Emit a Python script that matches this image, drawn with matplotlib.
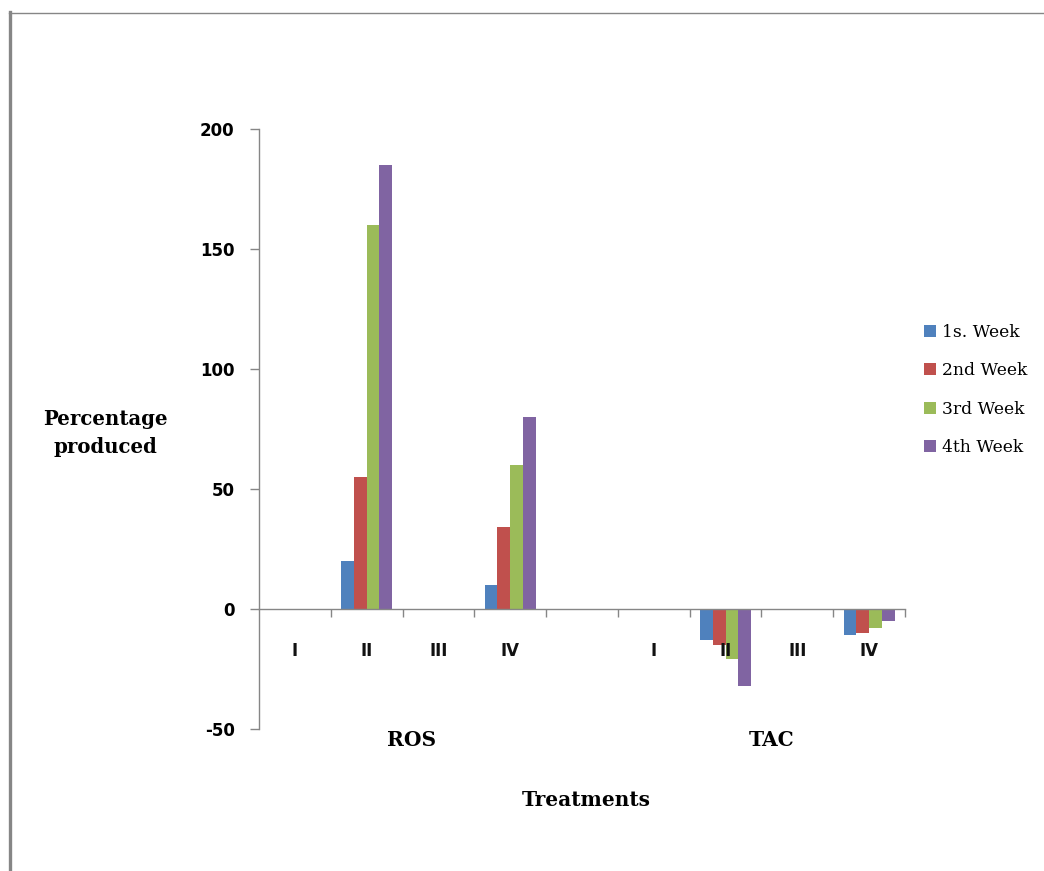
import numpy as np
import matplotlib
matplotlib.use("Agg")
import matplotlib.pyplot as plt
from matplotlib.lines import Line2D
from matplotlib.ticker import FixedLocator

# Treatment slots: ROS I-IV, a spacer, then TAC I-IV
categories = ["I", "II", "III", "IV", "", "I", "II", "III", "IV"]
groups = ["ROS", "TAC"]
series_names = ["1s. Week", "2nd Week", "3rd Week", "4th Week"]

week1 = [0, 20, 0, 10, np.nan, 0, -13, 0, -11]
week2 = [0, 55, 0, 34, np.nan, 0, -15, 0, -10]
week3 = [0, 160, 0, 60, np.nan, 0, -21, 0, -8]
week4 = [0, 185, 0, 80, np.nan, 0, -32, 0, -5]

y_ticks = [-50, 0, 50, 100, 150, 200]

colors = ["#4F81BD", "#C0504D", "#9BBB59", "#8064A2"]
axis_grey = "#868686"

fig = plt.figure(figsize=(10.44, 8.71), dpi=100)
ax = fig.add_axes([259 / 1044, 1 - 729 / 871, 646 / 1044, 600 / 871])

x = np.arange(len(categories))
bar_w = 0.178
series = [week1, week2, week3, week4]
for i, (vals, name, col) in enumerate(zip(series, series_names, colors)):
    ax.bar(x + (i - 1.5) * bar_w, vals, width=bar_w, color=col,
           linewidth=0, label=name, zorder=1.2)

ax.set_xlim(-0.5, len(categories) - 0.5)
ax.set_ylim(-50, 200)

# Axes styling: tick labels sit above the bars
ax.xaxis.set_zorder(2.5)
ax.yaxis.set_zorder(2.5)
for side in ["top", "right"]:
    ax.spines[side].set_visible(False)
ax.spines["bottom"].set_position(("data", 0))
ax.spines["bottom"].set_color(axis_grey)
ax.spines["left"].set_color(axis_grey)
ax.spines["bottom"].set_linewidth(1.0)
ax.spines["left"].set_linewidth(1.0)
ax.spines["bottom"].set_zorder(3)

ax.set_yticks(y_ticks)
ax.set_yticklabels([str(v) for v in y_ticks], fontfamily="DejaVu Sans",
                   fontweight="bold", fontsize=12)
ax.tick_params(axis="y", direction="out", length=6.5, width=1.0,
               color=axis_grey, pad=11)

ax.set_xticks(x)
ax.set_xticklabels(categories, fontfamily="DejaVu Sans", fontweight="bold",
                   fontsize=12, color="#111111")
ax.tick_params(axis="x", which="major", length=0, pad=24)
ax.xaxis.set_minor_locator(FixedLocator(np.arange(0.5, len(categories), 1.0)))
ax.tick_params(axis="x", which="minor", direction="out", length=6,
               width=1.0, color=axis_grey)

# Group names beneath the treatment labels
serif_bold = dict(fontfamily="DejaVu Serif", fontweight="bold", fontsize=14.5)
ax.text(1.63, -54.6, groups[0], ha="center", va="center", clip_on=False, **serif_bold)
ax.text(6.64, -54.6, groups[1], ha="center", va="center", clip_on=False, **serif_bold)

ax.set_xlabel("Treatments", **serif_bold)
ax.xaxis.set_label_coords(0.506, -0.118)
ax.xaxis.label.set_va("center")

ax.set_ylabel("Percentage\nproduced", rotation=0, ha="center", va="center",
              linespacing=1.5, fontfamily="DejaVu Serif", fontweight="bold",
              fontsize=14.2)
ax.yaxis.set_label_coords(-0.238, 0.493)

leg = ax.legend(loc="upper left", bbox_to_anchor=(924 / 1044, 1 - 324 / 871),
                bbox_transform=fig.transFigure, frameon=False,
                prop=dict(family="DejaVu Serif", size=12.3),
                handlelength=0.72, handleheight=0.72, handletextpad=0.35,
                labelspacing=1.25, borderpad=0, borderaxespad=0)

# Chart-area border along the top and left edges
fig.add_artist(Line2D([8.5 / 1044, 1.0], [1 - 13 / 871, 1 - 13 / 871],
                      transform=fig.transFigure, color=axis_grey, linewidth=1.0))
fig.add_artist(Line2D([9.5 / 1044, 9.5 / 1044], [0.0, 1 - 12.5 / 871],
                      transform=fig.transFigure, color=axis_grey, linewidth=2.4))

fig.savefig("out.png", dpi=100, facecolor="white")
